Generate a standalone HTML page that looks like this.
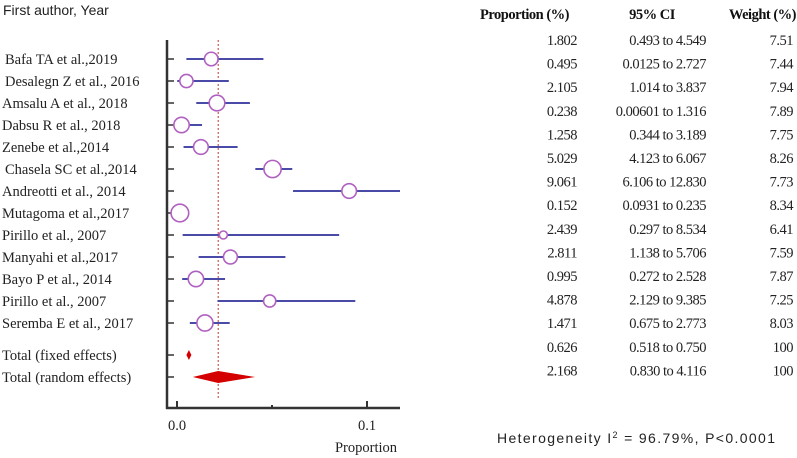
<!DOCTYPE html>
<html><head><meta charset="utf-8"><style>
body{margin:0;background:#fff;width:797px;height:458px;overflow:hidden}
svg{display:block}
.lab{font-family:"Liberation Serif",serif;font-size:14.5px;fill:#222}
.tb{font-family:"Liberation Serif",serif;font-size:14.5px;fill:#222;letter-spacing:-0.5px}
.hd{font-family:"Liberation Serif",serif;font-size:14.5px;font-weight:bold;fill:#111;letter-spacing:-0.5px}
.sans{font-family:"Liberation Sans",sans-serif;font-size:14px;fill:#222}
</style></head><body>
<svg id="chart" width="797" height="458">
<text class="sans" x="3" y="15">First author, Year</text>
<text class="hd" x="480" y="19">Proportion (%)</text>
<text class="hd" x="652" y="19" text-anchor="middle">95% CI</text>
<text class="hd" x="796" y="19" text-anchor="end">Weight (%)</text>
<line x1="167" y1="40" x2="167" y2="409" stroke="#333" stroke-width="2.5"/>
<line x1="166" y1="408" x2="400" y2="408" stroke="#333" stroke-width="2.5"/>
<text class="lab" x="366" y="452" text-anchor="middle">Proportion</text>
<text class="sans" x="497" y="443" textLength="278" lengthAdjust="spacing">Heterogeneity I<tspan font-size="9" dy="-5">2</tspan><tspan dy="5"> = 96.79%,  P&lt;0.0001</tspan></text>
<g id="g"></g>
</svg>
<script>
const labels=["Bafa TA  et al.,2019","Desalegn Z et al., 2016","Amsalu A et al., 2018","Dabsu R et al., 2018","Zenebe et al.,2014","Chasela SC et al.,2014","Andreotti et al., 2014","Mutagoma et al.,2017","Pirillo et al., 2007","Manyahi et al.,2017","Bayo P et al., 2014","Pirillo et al., 2007","Seremba E et al., 2017"];
const props=[1.802,0.495,2.105,0.238,1.258,5.029,9.061,0.152,2.439,2.811,0.995,4.878,1.471];
const lows=[0.493,0.0125,1.014,0.00601,0.344,4.123,6.106,0.0931,0.297,1.138,0.272,2.129,0.675];
const highs=[4.549,2.727,3.837,1.316,3.189,6.067,12.830,0.235,8.534,5.706,2.528,9.385,2.773];
const weights=[7.51,7.44,7.94,7.89,7.75,8.26,7.73,8.34,6.41,7.59,7.87,7.25,8.03];
const totalLabels=["Total (fixed effects)","Total (random effects)"];
const totalProps=[0.626,2.168];
const totalLows=[0.518,0.830];
const totalHighs=[0.750,4.116];
const totalWeights=[100,100];
const xTicks=[0,0.05,0.1];
const xTickLabels=["0.0","","0.1"];
const NS="http://www.w3.org/2000/svg";
const g=document.getElementById('g');
const x=v=>177+v*1900;
const rowY=i=>59+i*22;
const totY=i=>355+i*22;
const tabY=i=>45+i*23.6;
const fmt=v=>v>=0.1?v.toFixed(3):String(v);
const fmtW=v=>v>=100?String(v):v.toFixed(2);
function mk(t,a,txt){const e=document.createElementNS(NS,t);for(const k in a)e.setAttribute(k,a[k]);if(txt!==undefined)e.textContent=txt;g.appendChild(e);return e;}
xTicks.forEach((t,i)=>{
 const l=mk('line',{x1:x(t),x2:x(t),y1:408,y2:i==1?405:401,stroke:'#333','stroke-width':2});
 
 
 if(xTickLabels[i]){const tx=mk('text',{x:x(t),y:430,'text-anchor':'middle',class:'lab'},xTickLabels[i]);
 
 }
});
const dl=mk('line',{x1:x(totalProps[1]/100),x2:x(totalProps[1]/100),y1:40,y2:400,stroke:'#c0392b','stroke-width':1,'stroke-dasharray':'2,2'});


labels.forEach((s,i)=>{
 const y=rowY(i);
 const t=mk('text',{x:(i==0||i==1||i==5)?5:2,y:y+5,class:'lab'},s);
 
 
 const tk=mk('line',{x1:167,x2:174,y1:y,y2:y,stroke:'#333','stroke-width':1.5});
 
 
 const ci=mk('line',{x1:x(lows[i]/100),x2:Math.min(x(highs[i]/100),400),y1:y,y2:y,stroke:'#4a4aa8','stroke-width':2});
 
 
 const r=Math.max(3.5,4+(weights[i]-6.41)*2.5);
 const c=mk('circle',{cx:x(props[i]/100),cy:y,r:r,fill:'#fff',stroke:'#b060c0','stroke-width':1.6});
 
 
});
totalLabels.forEach((s,i)=>{
 const y=totY(i);
 const t=mk('text',{x:2,y:y+5,class:'lab'},s);
 
 
 const tk=mk('line',{x1:167,x2:174,y1:y,y2:y,stroke:'#333','stroke-width':1.5});
 
 
 let lo=x(totalLows[i]/100),hi=x(totalHighs[i]/100);const m=x(totalProps[i]/100),h=i==0?5:6;
 if(hi-lo<5){lo=m-2.5;hi=m+2.5;}
 const d=mk('polygon',{points:`${lo},${y} ${m},${y-h} ${hi},${y} ${m},${y+h}`,fill:'#d40000'});
 
 
});
const allP=props.concat(totalProps),allL=lows.concat(totalLows),allH=highs.concat(totalHighs),allW=weights.concat(totalWeights);
allP.forEach((p,i)=>{
 const y=tabY(i);
 const a=mk('text',{x:577,y:y,'text-anchor':'end',class:'tb'},p.toFixed(3));
 
 
 const b=mk('text',{x:706,y:y,'text-anchor':'end',class:'tb'},fmt(allL[i])+' to '+allH[i].toFixed(3));
 
 
 const c=mk('text',{x:793,y:y,'text-anchor':'end',class:'tb'},fmtW(allW[i]));
 
 
});
</script>
</body></html>
